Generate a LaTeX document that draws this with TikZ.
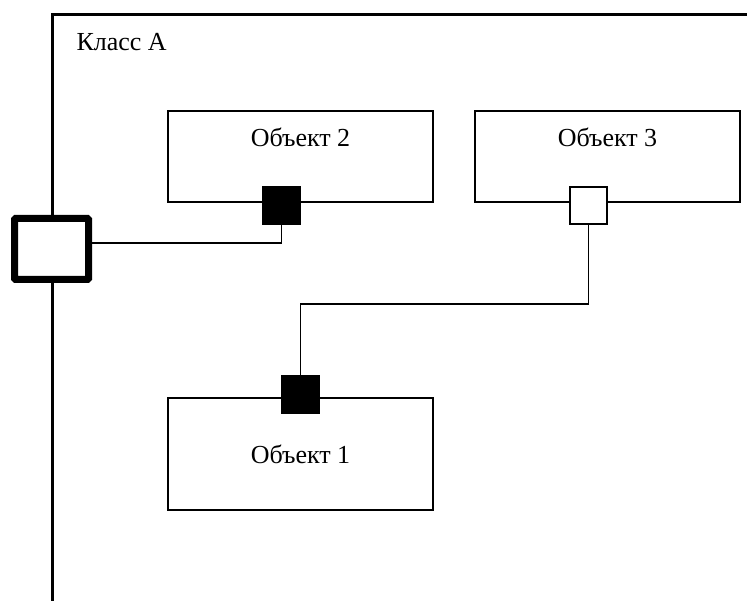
\documentclass[tikz,border=0pt]{standalone}
\usepackage{fontspec}
\setmainfont{Liberation Serif}
\usetikzlibrary{positioning}

\begin{document}
\begin{tikzpicture}[
  x=1pt, y=-1pt,
  font=\fontsize{26}{30}\selectfont,
  obj/.style={draw, line width=2pt, minimum width=265pt, minimum height=91pt, inner sep=0pt},
  pin/.style={draw, line width=2pt, minimum size=37pt, inner sep=0pt, fill=white},
  pinfull/.style={pin, fill=black},
  link/.style={line width=1.5pt}
]
\useasboundingbox (0,0) rectangle (747,601);
\draw[line width=2.7pt] (747,14.7) -- (52.5,14.7) -- (52.5,601);
\node[anchor=base west] (cls) at (73,51) {Класс А};
\node[draw, line width=7pt, rounded corners=1pt, fill=white, minimum width=74pt, minimum height=61pt, inner sep=0pt] (port) at (51.5,249) {};

\node[obj, label={[anchor=base, yshift=-37pt]north:Объект 2}] (obj2) at (300.5,156.5) {};
\node[obj, label={[anchor=base, yshift=-37pt]north:Объект 3}] (obj3) at (607.5,156.5) {};
\node[obj, minimum height=112pt] (obj1) at (300.5,454) {Объект 1};

\node[pinfull] (pin2) at ([xshift=-19pt, yshift=-2.5pt]obj2.south) {};
\node[pin] (pin3) at ([xshift=-19pt, yshift=-2.5pt]obj3.south) {};
\node[pinfull] (pin1) at ([yshift=2pt]obj1.north) {};

\draw[link] (pin2.south) |- ([yshift=6pt]port.east);
\draw[link] (pin3.south) -- ++(0,79) -| (pin1.north);
\end{tikzpicture}
\end{document}
